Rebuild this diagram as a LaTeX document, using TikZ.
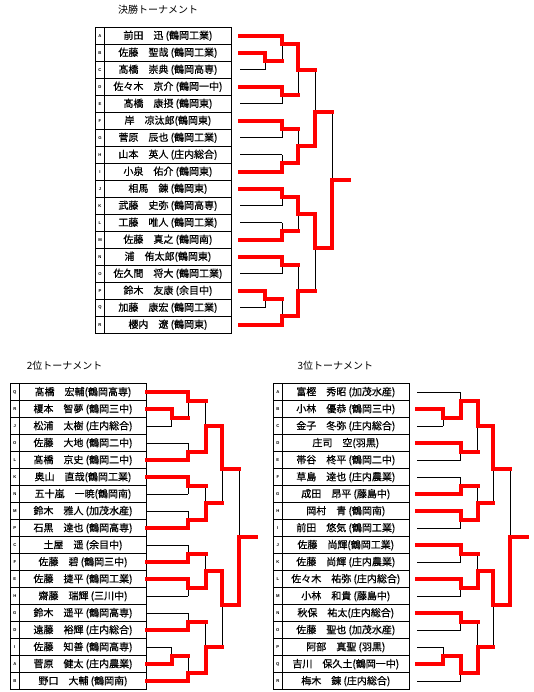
\documentclass[tikz,border=0pt]{standalone}
\usepackage{fontspec}
\newfontfamily\jp[FakeBold=0.6]{Noto Sans CJK JP}
\newfontfamily\jpt{Noto Sans CJK JP}
\newfontfamily\lett{Liberation Sans}
\tikzset{
  thinln/.style={line width=0.9pt, black},
  winln/.style={line width=3.9pt, red, line cap=rect, line join=miter},
  gridln/.style={line width=0.9pt, black},
  namecell/.style={font=\jp\fontsize{10}{10}\selectfont, inner sep=0pt, anchor=center},
  lettercell/.style={font=\lett\bfseries\fontsize{4.2}{4.5}\selectfont, inner sep=0pt},
  ttl/.style={font=\jpt\fontsize{10}{10}\selectfont, inner sep=0pt, anchor=west}
}
% table: #1 prefix, #2 left x, #3 letter line x, #4 right x, #5 list
\newcommand\mktable[5]{%
  \draw[gridln] (#2,0) rectangle (#4,18) (#3,0)--(#3,18);
  \foreach \k in {1,...,17} \draw[gridln] (#2,\k)--(#4,\k);
  \foreach \lt/\nm [count=\i from 0] in {#5} {
    \node[lettercell] (#1l\i) at ({(#2+#3)/2},{\i+0.5}) {\lt};
    \node[namecell] (#1n\i) at ({(#3+#4)/2},{\i+0.5}) {\nm};
  }
}
% bracket structure, thin lines; uses \xs \ca \cb \cc \cd \ce \co
\newcommand\brthin{%
\draw[thinln]
 (\xs,0.5)--(\cb,0.5)
 (\xs,1.5)--(\ca,1.5) (\xs,2.5)--(\ca,2.5) (\ca,1.5)--(\ca,2.5) (\ca,2)--(\cb,2)
 (\cb,0.5)--(\cb,2) (\cb,1)--(\cc,1)
 (\xs,3.5)--(\cb,3.5) (\xs,4.5)--(\cb,4.5) (\cb,3.5)--(\cb,4.5) (\cb,4)--(\cc,4)
 (\cc,1)--(\cc,4) (\cc,2.5)--(\cd,2.5)
 (\xs,5.5)--(\cb,5.5) (\xs,6.5)--(\cb,6.5) (\cb,5.5)--(\cb,6.5) (\cb,6)--(\cc,6)
 (\xs,7.5)--(\cb,7.5) (\xs,8.5)--(\cb,8.5) (\cb,7.5)--(\cb,8.5) (\cb,8)--(\cc,8)
 (\cc,6)--(\cc,8) (\cc,7)--(\cd,7)
 (\cd,2.5)--(\cd,7) (\cd,5)--(\ce,5)
 (\xs,9.5)--(\cb,9.5) (\xs,10.5)--(\cb,10.5) (\cb,9.5)--(\cb,10.5) (\cb,10)--(\cc,10)
 (\xs,11.5)--(\cb,11.5) (\xs,12.5)--(\cb,12.5) (\cb,11.5)--(\cb,12.5) (\cb,12)--(\cc,12)
 (\cc,10)--(\cc,12) (\cc,11)--(\cd,11)
 (\xs,13.5)--(\cb,13.5) (\xs,14.5)--(\cb,14.5) (\cb,13.5)--(\cb,14.5) (\cb,14)--(\cc,14)
 (\xs,15.5)--(\ca,15.5) (\xs,16.5)--(\ca,16.5) (\ca,15.5)--(\ca,16.5) (\ca,16)--(\cb,16)
 (\xs,17.5)--(\cb,17.5) (\cb,16)--(\cb,17.5) (\cb,17)--(\cc,17)
 (\cc,14)--(\cc,17) (\cc,15.5)--(\cd,15.5)
 (\cd,11)--(\cd,15.5) (\cd,13)--(\ce,13)
 (\ce,5)--(\ce,13) (\ce,9)--(\co,9);
}
\begin{document}
\begin{tikzpicture}[x=1pt,y=-1pt]
\path[use as bounding box] (0,0) rectangle (534,692);

\node[ttl] (title1) at (118,10) {決勝トーナメント};
\node[ttl] (title2) at (26.7,366) {2位トーナメント};
\node[ttl] (title3) at (297.3,366) {3位トーナメント};

% ---------- final tournament ----------
\begin{scope}[yshift=-27.3pt, y=-17pt]
\mktable{a}{95.7}{104.3}{231.6}{A/前田　迅 (鶴岡工業), B/佐藤　聖哉 (鶴岡工業), C/髙橋　崇典 (鶴岡高専), D/佐々木　京介 (鶴岡一中), E/髙橋　康摂 (鶴岡東), F/岸　凉汰郎(鶴岡東), G/菅原　辰也 (鶴岡工業), H/山本　英人 (庄内総合), I/小泉　佑介 (鶴岡東), J/相馬　錬 (鶴岡東), K/武藤　史弥 (鶴岡高専), L/工藤　唯人 (鶴岡工業), M/佐藤　真之 (鶴岡南), N/浦　侑太郎(鶴岡東), O/佐久間　将大 (鶴岡工業), P/鈴木　友康 (余目中), Q/加藤　康宏 (鶴岡工業), R/櫻内　遼 (鶴岡東)}
\def\xs{240}\def\ca{265}\def\cb{282.3}\def\cc{298.3}\def\cd{315.3}\def\ce{332.3}\def\co{349}
\brthin
\draw[winln] (\xs,0.5)--(\cb,0.5)--(\cb,1)--(\cc,1)--(\cc,2.5)--(\cd,2.5);
\draw[winln] (\xs,1.5)--(\ca,1.5)--(\ca,2)--(\cb,2);
\draw[winln] (\xs,3.5)--(\cb,3.5)--(\cb,4)--(\cc,4);
\draw[winln] (\xs,5.5)--(\cb,5.5)--(\cb,6)--(\cc,6);
\draw[winln] (\xs,8.5)--(\cb,8.5)--(\cb,8)--(\cc,8)--(\cc,7)--(\cd,7)--(\cd,5)--(\ce,5);
\draw[winln] (\xs,9.5)--(\cb,9.5)--(\cb,10)--(\cc,10)--(\cc,11)--(\cd,11)--(\cd,13)--(\ce,13)--(\ce,9)--(\co,9);
\draw[winln] (\xs,12.5)--(\cb,12.5)--(\cb,12)--(\cc,12);
\draw[winln] (\xs,13.5)--(\cb,13.5)--(\cb,14)--(\cc,14);
\draw[winln] (\xs,15.5)--(\ca,15.5)--(\ca,16)--(\cb,16);
\draw[winln] (\xs,17.5)--(\cb,17.5)--(\cb,17)--(\cc,17)--(\cc,15.5)--(\cd,15.5);
\end{scope}

% ---------- 2nd place tournament ----------
\begin{scope}[yshift=-383.7pt, y=-17pt]
\mktable{b}{10.3}{19.3}{146.7}{Q/髙橋　宏輔(鶴岡高専), R/榎本　智夢 (鶴岡三中), J/松浦　太樹 (庄内総合), O/佐藤　大地 (鶴岡二中), L/髙橋　京史 (鶴岡二中), K/奥山　直哉(鶴岡工業), N/五十嵐　一暁(鶴岡南), M/鈴木　雅人 (加茂水産), P/石黒　達也 (鶴岡高専), C/土屋　遥 (余目中), F/佐藤　碧 (鶴岡三中), E/佐藤　捷平 (鶴岡工業), H/齋藤　瑞輝 (三川中), G/鈴木　遥平 (鶴岡高専), D/遠藤　裕輝 (庄内総合), I/佐藤　知善 (鶴岡高専), A/菅原　健太 (庄内農業), B/野口　大輔 (鶴岡南)}
\def\xs{147}\def\ca{171.7}\def\cb{188.3}\def\cc{205.7}\def\cd{222.3}\def\ce{239}\def\co{256}
\brthin
\draw[winln] (\xs,0.5)--(\cb,0.5)--(\cb,1)--(\cc,1);
\draw[winln] (\xs,1.5)--(\ca,1.5)--(\ca,2)--(\cb,2);
\draw[winln] (\xs,4.5)--(\cb,4.5)--(\cb,4)--(\cc,4)--(\cc,2.5)--(\cd,2.5)--(\cd,5)--(\ce,5);
\draw[winln] (\xs,5.5)--(\cb,5.5)--(\cb,6)--(\cc,6);
\draw[winln] (\xs,8.5)--(\cb,8.5)--(\cb,8)--(\cc,8)--(\cc,7)--(\cd,7);
\draw[winln] (\xs,10.5)--(\cb,10.5)--(\cb,10)--(\cc,10);
\draw[winln] (\xs,11.5)--(\cb,11.5)--(\cb,12)--(\cc,12)--(\cc,11)--(\cd,11)--(\cd,13)--(\ce,13)--(\ce,9)--(\co,9);
\draw[winln] (\xs,14.5)--(\cb,14.5)--(\cb,14)--(\cc,14);
\draw[winln] (\xs,16.5)--(\ca,16.5)--(\ca,16)--(\cb,16);
\draw[winln] (\xs,17.5)--(\cb,17.5)--(\cb,17)--(\cc,17)--(\cc,15.5)--(\cd,15.5);
\end{scope}

% ---------- 3rd place tournament ----------
\begin{scope}[yshift=-383.7pt, y=-17pt]
\mktable{c}{273.3}{282.3}{409.3}{A/富樫　秀昭 (加茂水産), B/小林　優恭 (鶴岡三中), C/金子　冬弥 (庄内総合), D/庄司　空(羽黒), E/帯谷　柊平 (鶴岡二中), F/草島　達也 (庄内農業), G/成田　昂平 (藤島中), H/岡村　青 (鶴岡南), I/前田　悠気 (鶴岡工業), J/佐藤　尚輝(鶴岡工業), K/佐藤　尚輝 (庄内農業), L/佐々木　祐弥 (庄内総合), M/小林　和貴 (藤島中), N/秋保　祐太(庄内総合), O/佐藤　聖也 (加茂水産), P/阿部　真聖 (羽黒), Q/吉川　保久土(鶴岡一中), R/梅木　錬 (庄内総合)}
\def\xs{417}\def\ca{443.3}\def\cb{460.7}\def\cc{477.7}\def\cd{493.3}\def\ce{510}\def\co{527}
\brthin
\draw[winln] (\xs,1.5)--(\ca,1.5)--(\ca,2)--(\cb,2)--(\cb,1)--(\cc,1)--(\cc,2.5)--(\cd,2.5)--(\cd,5)--(\ce,5);
\draw[winln] (\xs,3.5)--(\cb,3.5)--(\cb,4)--(\cc,4);
\draw[winln] (\xs,6.5)--(\cb,6.5)--(\cb,6)--(\cc,6);
\draw[winln] (\xs,7.5)--(\cb,7.5)--(\cb,8)--(\cc,8)--(\cc,7)--(\cd,7);
\draw[winln] (\xs,9.5)--(\cb,9.5)--(\cb,10)--(\cc,10);
\draw[winln] (\xs,11.5)--(\cb,11.5)--(\cb,12)--(\cc,12)--(\cc,11)--(\cd,11)--(\cd,13)--(\ce,13)--(\ce,9)--(\co,9);
\draw[winln] (\xs,13.5)--(\cb,13.5)--(\cb,14)--(\cc,14);
\draw[winln] (\xs,16.5)--(\ca,16.5)--(\ca,16)--(\cb,16)--(\cb,17)--(\cc,17)--(\cc,15.5)--(\cd,15.5);
\end{scope}
\end{tikzpicture}
\end{document}
